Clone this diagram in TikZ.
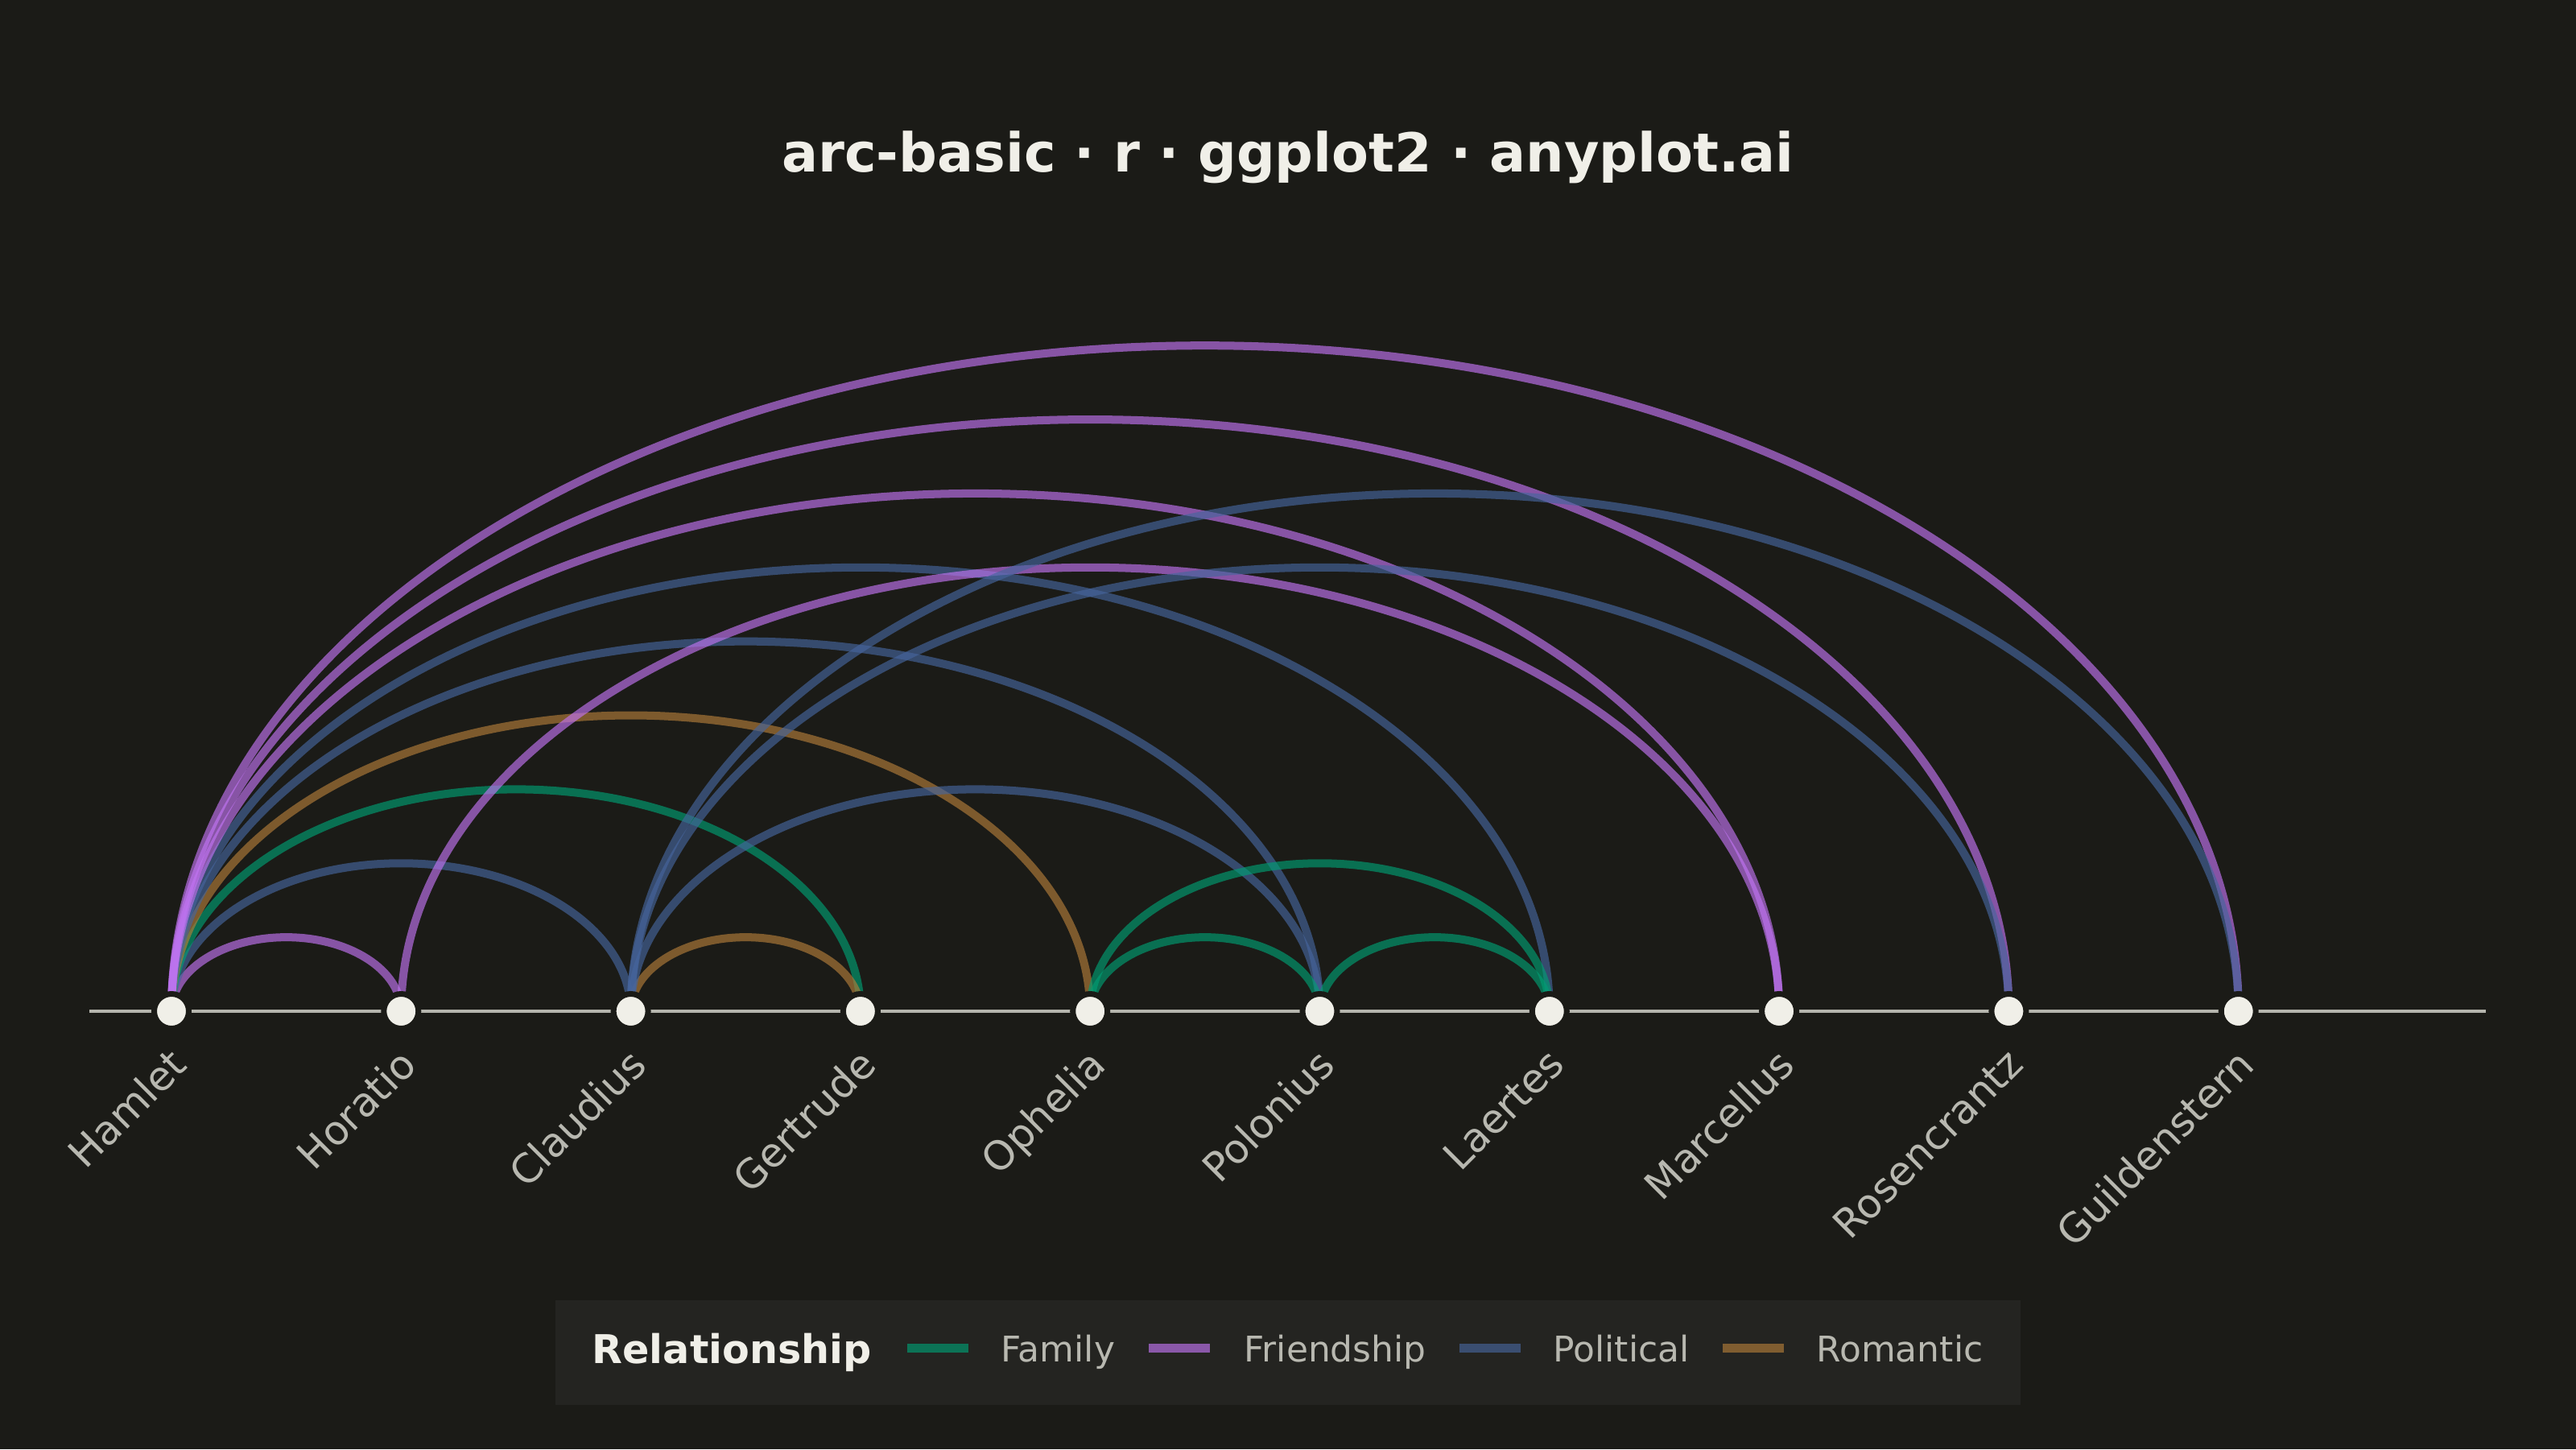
\documentclass[tikz,border=0pt]{standalone}
\usepackage{fontspec}
\setmainfont{DejaVu Sans}
\usepackage{xcolor}
\usetikzlibrary{positioning,calc}

\definecolor{bgc}{HTML}{1B1B17}
\definecolor{panelc}{HTML}{242421}
\definecolor{inkc}{HTML}{F0EFE8}
\definecolor{mutedc}{HTML}{B8B8B0}
\definecolor{axisc}{HTML}{B5B5AD}
\definecolor{famc}{HTML}{009E73}
\definecolor{frdc}{HTML}{C174F2}
\definecolor{polc}{HTML}{46659D}
\definecolor{romc}{HTML}{B27C39}

\pgfdeclarelayer{back}
\pgfdeclarelayer{links}
\pgfsetlayers{back,links,main}

\begin{document}
\begin{tikzpicture}[
  every node/.style={font=\fontsize{14.2}{17}\selectfont, text=mutedc},
  char/.style  ={circle, fill=inkc, draw=bgc, line width=0.07cm,
                 minimum size=0.43cm, inner sep=0pt},
  lbl/.style   ={rotate=45, anchor=north east, inner sep=0pt},
  rel/.style   ={line width=2.85pt, draw opacity=0.65,
                 to path={let \p1=(\tikztostart), \p2=(\tikztotarget) in
                   (\p1) arc[start angle=180, end angle=0,
                             x radius={0.5*(\x2-\x1)},
                             y radius={0.322*(\x2-\x1)}]}},
  fam/.style   ={rel, draw=famc},
  frd/.style   ={rel, draw=frdc},
  pol/.style   ={rel, draw=polc},
  rom/.style   ={rel, draw=romc},
  key/.style   ={minimum width=0.76cm, minimum height=0.11cm, inner sep=0pt,
                 fill opacity=0.65},
  keytxt/.style={anchor=base west, inner sep=0pt,
                 font=\fontsize{12.5}{15}\selectfont}
]

%% --- Canvas ---------------------------------------------------
\begin{pgfonlayer}{back}
  \fill[bgc] (0,0) rectangle (32,18);
\end{pgfonlayer}
\useasboundingbox (0,0) rectangle (32,18);

%% --- Title ----------------------------------------------------
\node[font=\fontsize{19}{23}\selectfont\bfseries, text=inkc, anchor=base]
     (title) at (16,15.86) {arc-basic · r · ggplot2 · anyplot.ai};

%% --- Characters on the axis -----------------------------------
\coordinate (axL) at (1.11,5.44);
\coordinate (axR) at (30.88,5.44);

\node[char] (Ham) at ( 2.130,5.44) {};
\node[char] (Hor) at ( 4.983,5.44) {};
\node[char] (Cla) at ( 7.836,5.44) {};
\node[char] (Ger) at (10.689,5.44) {};
\node[char] (Oph) at (13.542,5.44) {};
\node[char] (Pol) at (16.395,5.44) {};
\node[char] (Lae) at (19.248,5.44) {};
\node[char] (Mar) at (22.101,5.44) {};
\node[char] (Ros) at (24.954,5.44) {};
\node[char] (Gui) at (27.807,5.44) {};

%% --- Axis labels ----------------------------------------------
\node[lbl] (lHam) at ([xshift=-0.05cm,yshift=-0.42cm]Ham.center) {Hamlet};
\node[lbl] (lHor) at ([xshift=-0.05cm,yshift=-0.42cm]Hor.center) {Horatio};
\node[lbl] (lCla) at ([xshift=-0.05cm,yshift=-0.42cm]Cla.center) {Claudius};
\node[lbl] (lGer) at ([xshift=-0.05cm,yshift=-0.42cm]Ger.center) {Gertrude};
\node[lbl] (lOph) at ([xshift=-0.05cm,yshift=-0.42cm]Oph.center) {Ophelia};
\node[lbl] (lPol) at ([xshift=-0.05cm,yshift=-0.42cm]Pol.center) {Polonius};
\node[lbl] (lLae) at ([xshift=-0.05cm,yshift=-0.42cm]Lae.center) {Laertes};
\node[lbl] (lMar) at ([xshift=-0.05cm,yshift=-0.42cm]Mar.center) {Marcellus};
\node[lbl] (lRos) at ([xshift=-0.05cm,yshift=-0.42cm]Ros.center) {Rosencrantz};
\node[lbl] (lGui) at ([xshift=-0.05cm,yshift=-0.42cm]Gui.center) {Guildenstern};

%% --- Arcs (behind the points) ---------------------------------
\begin{pgfonlayer}{links}
  \draw[axisc, line width=1.1pt] (axL) -- (axR);
  % Hamlet
  \draw[frd] (Ham) to (Hor);
  \draw[pol] (Ham) to (Cla);
  \draw[fam] (Ham) to (Ger);
  \draw[rom] (Ham) to (Oph);
  \draw[pol] (Ham) to (Pol);
  \draw[pol] (Ham) to (Lae);
  \draw[frd] (Ham) to (Mar);
  \draw[frd] (Ham) to (Ros);
  \draw[frd] (Ham) to (Gui);
  % Horatio
  \draw[frd] (Hor) to (Mar);
  % Claudius
  \draw[rom] (Cla) to (Ger);
  \draw[pol] (Cla) to (Pol);
  \draw[pol] (Cla) to (Ros);
  \draw[pol] (Cla) to (Gui);
  % Polonius' household
  \draw[fam] (Oph) to (Pol);
  \draw[fam] (Oph) to (Lae);
  \draw[fam] (Pol) to (Lae);
\end{pgfonlayer}

%% --- Legend ---------------------------------------------------
\node[fill=panelc, minimum width=18.2cm, minimum height=1.3cm, inner sep=0pt]
     (legbox) at (16.0,1.20) {};
\node[anchor=base west, inner sep=0pt, text=inkc,
      font=\fontsize{14}{17}\selectfont\bfseries] (legT) at (7.35,1.07) {Relationship};
\node[key, fill=famc] (kFam) at (11.65,1.255) {};
\node[keytxt] (tFam) at (12.43,1.09) {Family};
\node[key, fill=frdc] (kFrd) at (14.65,1.255) {};
\node[keytxt] (tFrd) at (15.45,1.09) {Friendship};
\node[key, fill=polc] (kPol) at (18.51,1.255) {};
\node[keytxt] (tPol) at (19.29,1.09) {Political};
\node[key, fill=romc] (kRom) at (21.78,1.255) {};
\node[keytxt] (tRom) at (22.56,1.09) {Romantic};

\end{tikzpicture}
\end{document}
